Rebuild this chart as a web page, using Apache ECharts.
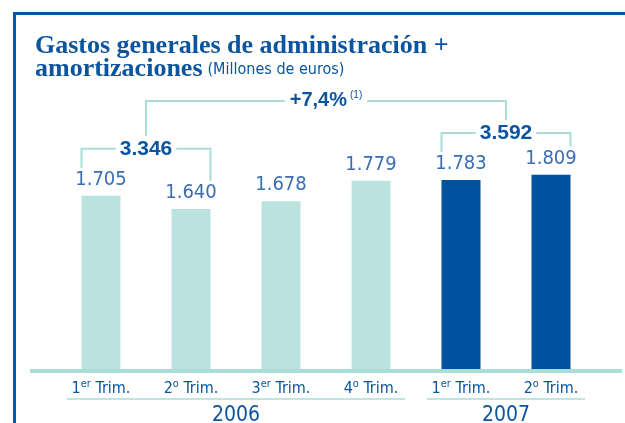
<!DOCTYPE html>
<html>
<head>
<meta charset="utf-8">
<script src="https://cdn.jsdelivr.net/npm/echarts@6/dist/echarts.min.js"></script>
<style>
  html, body { margin: 0; padding: 0; background: #fff; }
  #chart { width: 625px; height: 423px; }
</style>
</head>
<body>
<div id="chart"></div>
<script>
// datos (millones de euros)
const categories = ['1er Trim.', '2o Trim.', '3er Trim.', '4o Trim.', '1er Trim.', '2o Trim.'];
const values = [1705, 1640, 1678, 1779, 1783, 1809];
const barYear = [0, 0, 0, 0, 1, 1];
const years = ['2006', '2007'];
const yearStart = [0, 4];
const yearEnd = [3, 5];
const sumLabels = ['3.346', '3.592'];
const sumStart = [0, 4];
const sumEnd = [1, 5];
const growthLabel = '+7,4%';
const growthNote = '(1)';

const blue = '#0b55a0';
const labelBlue = '#3a6db3';
const teal = '#a9ddd7';
const barColors = ['#bae3df', '#00519e'];
const narrow = '"Liberation Sans Narrow", "DejaVu Sans Condensed", sans-serif';
const halfBar = 19.5;

function fmt(v) {
  return String(v).replace(/\B(?=(\d{3})+(?!\d))/g, '.');
}

// posiciones de los corchetes de suma
function sumGeom(k, api) {
  const p1 = api.coord([sumStart[k], values[sumStart[k]]]);
  const p2 = api.coord([sumEnd[k], values[sumEnd[k]]]);
  const x1 = p1[0] - halfBar;
  const x2 = p2[0] + halfBar;
  const y = p1[1] - 47;
  return { x1, x2, y, xm: (x1 + x2) / 2, l1: p1[1] - 28, l2: p2[1] - 28 };
}

function renderBracket(params, api) {
  const k = params.dataIndex;
  if (k < sumLabels.length) {
    const g = sumGeom(k, api);
    return {
      type: 'group',
      children: [
        { type: 'polyline', shape: { points: [[g.x1, g.l1], [g.x1, g.y], [g.x2, g.y], [g.x2, g.l2]] },
          style: { stroke: teal, lineWidth: 2, fill: null } },
        { type: 'text', x: g.xm, y: g.y,
          style: { text: sumLabels[k], fill: blue, font: 'bold 21px "Liberation Sans", sans-serif',
            align: 'center', verticalAlign: 'middle', backgroundColor: '#fff', padding: [0, 4] } }
      ]
    };
  }
  const a = sumGeom(0, api);
  const b = sumGeom(1, api);
  const y = Math.min(a.y, b.y) - 32;
  return {
    type: 'group',
    children: [
      { type: 'polyline', shape: { points: [[a.xm, a.y - 13], [a.xm, y], [b.xm, y], [b.xm, b.y - 13]] },
        style: { stroke: teal, lineWidth: 2, fill: null } },
      { type: 'text', x: (a.xm + b.xm) / 2, y: y,
        style: {
          text: '{a|' + growthLabel + '}{n|' + growthNote + '}',
          align: 'center', verticalAlign: 'middle', backgroundColor: '#fff', padding: [0, 5],
          rich: {
            a: { fill: blue, font: 'bold 20px "Liberation Sans", sans-serif', lineHeight: 22 },
            n: { fill: blue, font: '10px "Liberation Sans", sans-serif', verticalAlign: 'top', lineHeight: 22, padding: [0, 0, 0, 3] }
          }
        } }
    ]
  };
}

function renderYear(params, api) {
  const k = params.dataIndex;
  const x1 = api.coord([yearStart[k], 0])[0] - 34;
  const x2 = api.coord([yearEnd[k], 0])[0] + 34;
  const base = api.coord([0, 850])[1];
  const y = base + 30;
  return {
    type: 'group',
    children: [
      { type: 'line', shape: { x1, y1: y, x2, y2: y }, style: { stroke: teal, lineWidth: 1.5 } },
      { type: 'text', x: (x1 + x2) / 2, y: y + 17,
        style: { text: years[k], fill: blue, font: '21px ' + narrow, align: 'center', verticalAlign: 'middle' } }
    ]
  };
}

const chart = echarts.init(document.getElementById('chart'));
chart.setOption({
  backgroundColor: '#fff',
  animation: false,
  title: {
    left: 30,
    top: 30,
    text: '{t|Gastos generales de administración +}\n{t|amortizaciones} {u|(Millones de euros)}',
    textStyle: {
      rich: {
        t: { color: blue, fontFamily: '"Liberation Serif", serif', fontWeight: 'bold', fontSize: 26, lineHeight: 23 },
        u: { color: blue, fontFamily: narrow, fontWeight: 'normal', fontSize: 16, lineHeight: 23 }
      }
    }
  },
  graphic: [
    { type: 'rect', left: 13, top: 12, shape: { width: 615, height: 3 }, style: { fill: blue } },
    { type: 'rect', left: 13, top: 12, shape: { width: 3, height: 415 }, style: { fill: blue } },
    { type: 'rect', left: 30, top: 369, shape: { width: 592, height: 4 }, style: { fill: teal } }
  ],
  grid: { left: 56, right: 29, top: 136, bottom: 54 },
  xAxis: {
    type: 'category',
    data: categories,
    axisLine: { show: false },
    axisTick: { show: false },
    axisLabel: {
      interval: 0,
      margin: 10,
      formatter: function (v) {
        const m = v.match(/^(\d)(er|o) (.*)$/);
        return '{n|' + m[1] + '}{s|' + m[2] + '}{n| ' + m[3] + '}';
      },
      rich: {
        n: { color: blue, fontFamily: narrow, fontSize: 16, lineHeight: 20 },
        s: { color: blue, fontFamily: narrow, fontSize: 11, lineHeight: 20, verticalAlign: 'top' }
      }
    }
  },
  yAxis: {
    type: 'value',
    min: 850,
    max: 2000,
    show: false,
    splitLine: { show: false }
  },
  series: [
    {
      type: 'bar',
      data: values,
      barWidth: 39,
      itemStyle: {
        color: function (p) { return barColors[barYear[p.dataIndex]]; }
      },
      label: {
        show: true,
        position: 'top',
        distance: 6,
        color: labelBlue,
        fontFamily: narrow,
        fontSize: 20,
        formatter: function (p) { return fmt(p.value); }
      }
    },
    {
      type: 'custom',
      renderItem: renderBracket,
      clip: false,
      silent: true,
      data: [[0, 0], [1, 0], [2, 0]]
    },
    {
      type: 'custom',
      renderItem: renderYear,
      clip: false,
      silent: true,
      data: [[0, 0], [1, 0]]
    }
  ]
});
</script>
</body>
</html>
